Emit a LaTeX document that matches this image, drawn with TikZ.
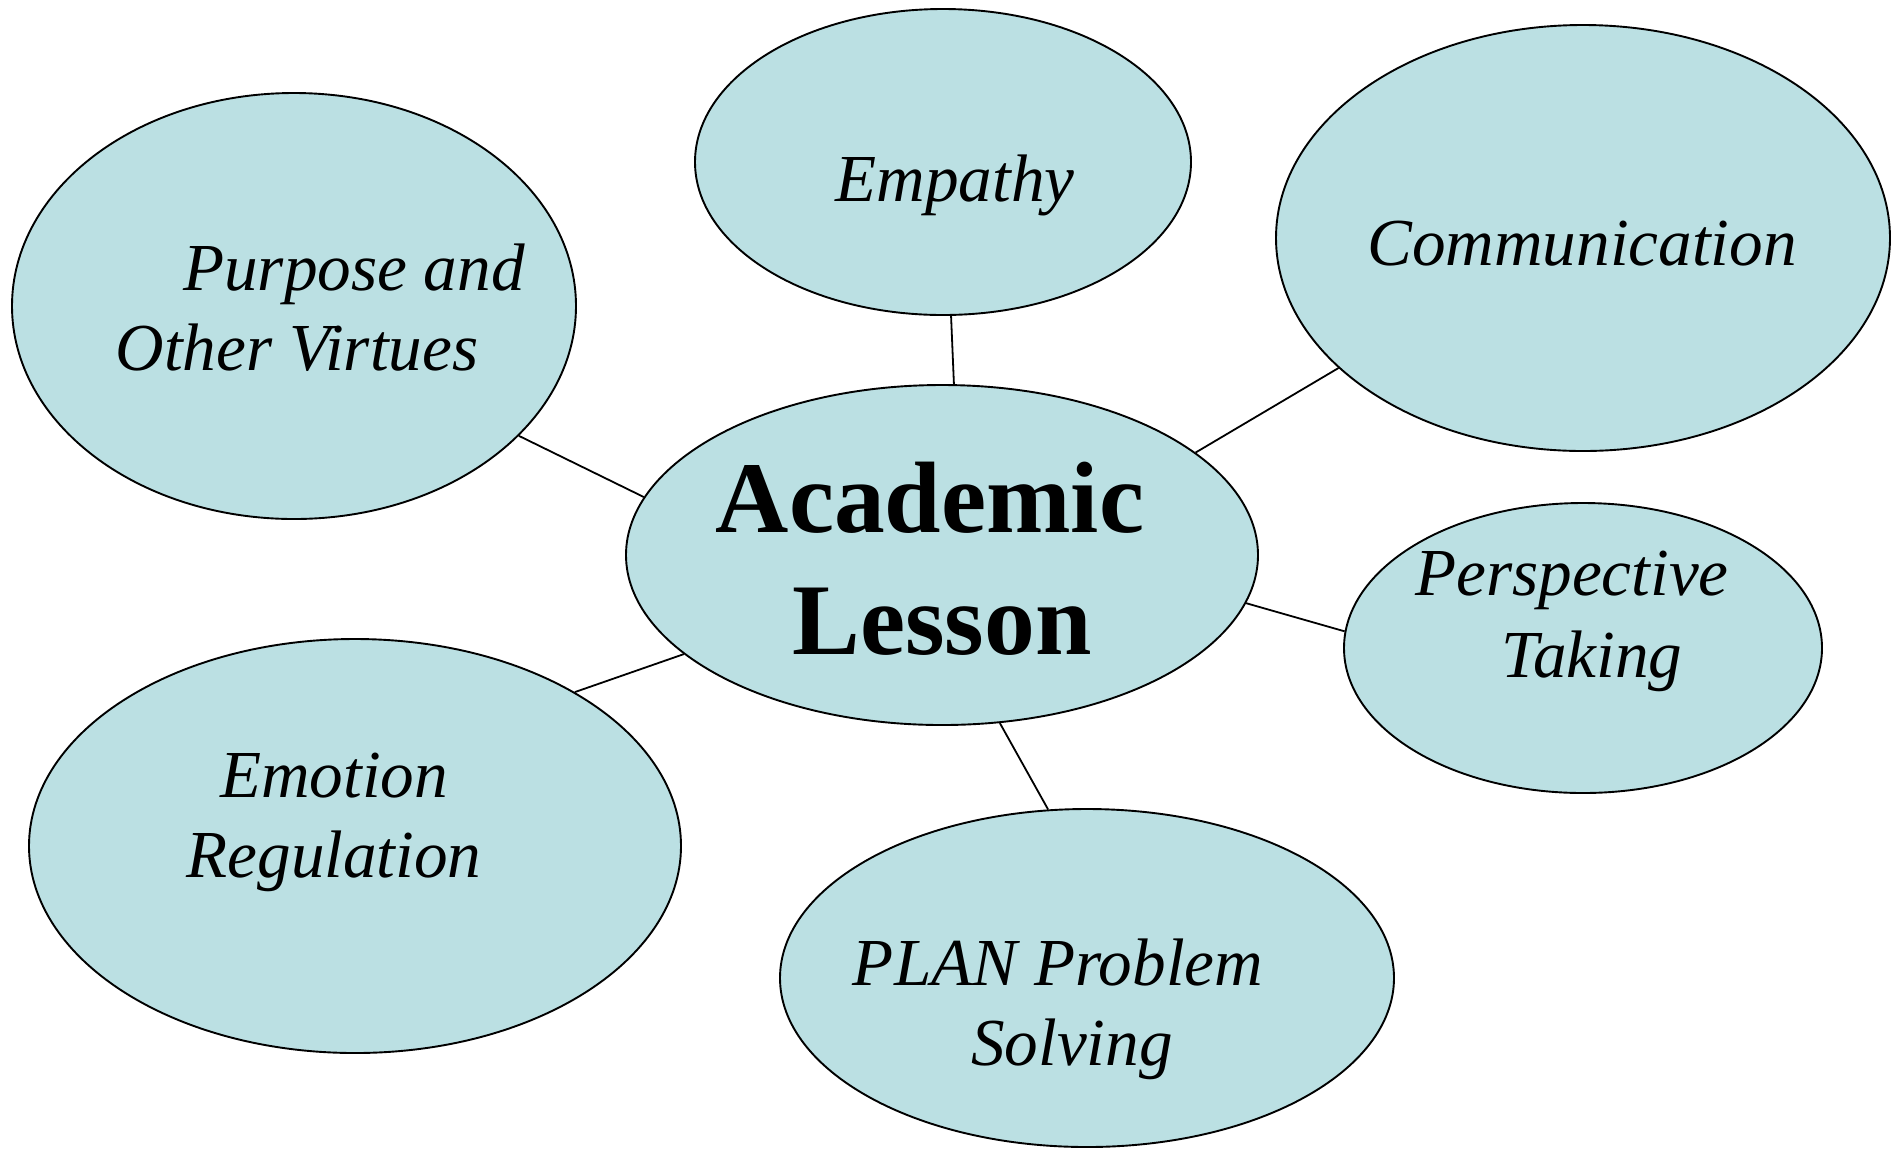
\documentclass[tikz,border=0pt]{standalone}
\usepackage{fontspec}
\setmainfont{Liberation Serif}
\usetikzlibrary{shapes.geometric}
\definecolor{bubble}{RGB}{187,224,227}
\begin{document}
\begin{tikzpicture}[x=0.5pt,y=-0.5pt,
  bub/.style={ellipse,draw=black,fill=bubble,line width=0.95pt,inner sep=0pt},
  lab/.style={anchor=base,inner sep=0pt,font=\fontsize{33.6pt}{40pt}\selectfont\itshape},
  big/.style={anchor=base,inner sep=0pt,font=\fontsize{50.75pt}{60pt}\selectfont\bfseries},
  link/.style={draw=black,line width=0.9pt}]
\useasboundingbox (0,0) rectangle (1896,1148);
% bubbles
\node[bub,minimum width=316pt,minimum height=170pt] (c) at (942,555) {};
\node[bub,minimum width=248pt,minimum height=153pt] (emp) at (943,162) {};
\node[bub,minimum width=307pt,minimum height=213pt] (com) at (1583,238) {};
\node[bub,minimum width=282pt,minimum height=213pt] (pur) at (294,306) {};
\node[bub,minimum width=239pt,minimum height=145pt] (per) at (1583,648) {};
\node[bub,minimum width=326pt,minimum height=207pt] (emo) at (355,846) {};
\node[bub,minimum width=307pt,minimum height=169pt] (plan) at (1087,978) {};
% connectors
\draw[link] (c.86.6) -- (emp.273.3);
\draw[link] (c.22.6) -- (com.208.1);
\draw[link] (c.169.8) -- (pur.330.7);
\draw[link] (c.351.6) -- (per.176.2);
\draw[link] (c.201.1) -- (emo.35.2);
\draw[link] (c.289.3) -- (plan.103.4);
% texts
\node[big] (t-c1) at (930,532) {Academic};
\node[big] (t-c2) at (942,654) {Lesson};
\node[lab] (t-emp) at (955,201) {Empathy};
\node[lab] (t-com) at (1582,265) {Communication};
\node[lab] (t-pur1) at (354,290) {Purpose and};
\node[lab] (t-pur2) at (297,370) {Other Virtues};
\node[lab] (t-per1) at (1572,595) {Perspective};
\node[lab] (t-per2) at (1592,677) {Taking};
\node[lab] (t-emo1) at (334,797) {Emotion};
\node[lab] (t-emo2) at (334,877) {Regulation};
\node[lab] (t-plan1) at (1058,985) {PLAN Problem};
\node[lab] (t-plan2) at (1072,1065) {Solving};
\end{tikzpicture}
\end{document}
